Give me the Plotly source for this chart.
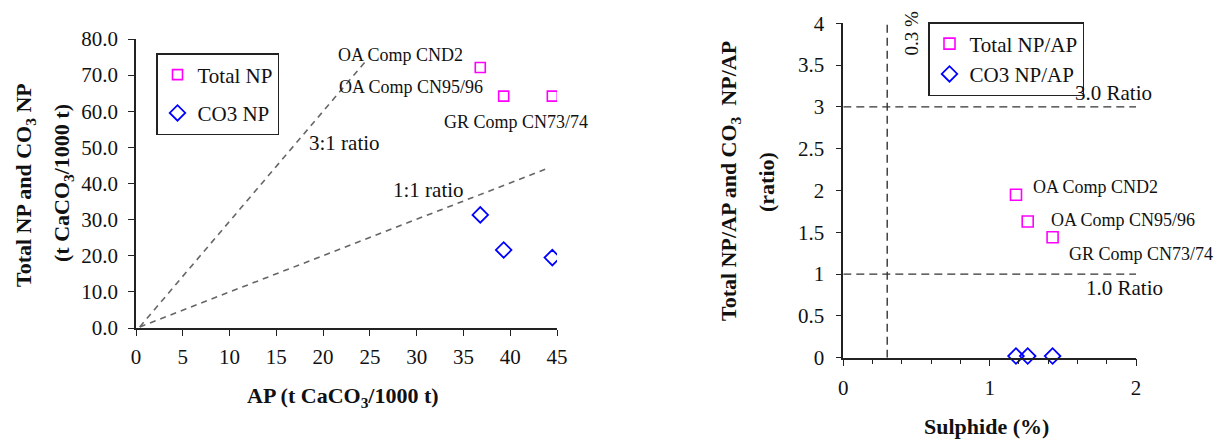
import plotly.graph_objects as go

# ---- Data (left chart) ----
ap = [36.8, 39.3, 44.5]
total_np = [72.1, 64.2, 64.2]
co3_np = [31.3, 21.6, 19.5]
sample_labels = ["OA Comp CND2", "OA Comp CN95/96", "GR Comp CN73/74"]
ratio3_x = [0.4, 24.6]
ratio3_y = [0.3, 74.0]
ratio1_x = [0.4, 43.8]
ratio1_y = [0.3, 44.0]

# ---- Data (right chart) ----
sulphide = [1.18, 1.26, 1.43]
total_np_ap = [1.95, 1.63, 1.44]
co3_np_ap = [0.02, 0.02, 0.02]
sulphide_limit = 0.3
ratio_levels = [3.0, 1.0]

FONT = "Liberation Serif"
AX = "#222222"
DASH_L = "#666666"
DASH_R = "#333333"

# page has an 8px body margin: figure is shifted by OFF px
OFF = 8
W, H = 1230 - OFF, 442 - OFF
def px(x):
    return (x - OFF) / W
def py(y):
    return 1 - (y - OFF) / H

fig = go.Figure()

# Left chart reference lines
fig.add_trace(go.Scatter(x=ratio3_x, y=ratio3_y, mode="lines", showlegend=False,
                         line=dict(color=DASH_L, width=1.6, dash="6px,5px"), xaxis="x", yaxis="y"))
fig.add_trace(go.Scatter(x=ratio1_x, y=ratio1_y, mode="lines", showlegend=False,
                         line=dict(color=DASH_L, width=1.6, dash="6px,5px"), xaxis="x", yaxis="y"))
# Left chart points
fig.add_trace(go.Scatter(x=ap, y=total_np, mode="markers", name="Total NP",
                         marker=dict(symbol="square-open", size=10, color="#FF00FF", line=dict(width=1.6)),
                         xaxis="x", yaxis="y", legend="legend", legendgroup="a"))
fig.add_trace(go.Scatter(x=ap, y=co3_np, mode="markers", name="CO3 NP",
                         marker=dict(symbol="diamond-open", size=12, color="#0000FF", line=dict(width=1.8)),
                         xaxis="x", yaxis="y", legend="legend", legendgroup="b"))

# Right chart reference lines
fig.add_trace(go.Scatter(x=[sulphide_limit, sulphide_limit], y=[0, 4], mode="lines", showlegend=False,
                         line=dict(color=DASH_R, width=1.4, dash="8px,5px"), xaxis="x2", yaxis="y2"))
for lvl in ratio_levels:
    fig.add_trace(go.Scatter(x=[0, 2], y=[lvl, lvl], mode="lines", showlegend=False,
                             line=dict(color=DASH_R, width=1.4, dash="8px,5px"), xaxis="x2", yaxis="y2"))
# Right chart points
fig.add_trace(go.Scatter(x=sulphide, y=total_np_ap, mode="markers", name="Total NP/AP",
                         marker=dict(symbol="square-open", size=11, color="#FF00FF", line=dict(width=1.6)),
                         xaxis="x2", yaxis="y2", legend="legend2", cliponaxis=False))
fig.add_trace(go.Scatter(x=sulphide, y=co3_np_ap, mode="markers", name="CO3 NP/AP",
                         marker=dict(symbol="diamond-open", size=12, color="#0000FF", line=dict(width=1.8)),
                         xaxis="x2", yaxis="y2", legend="legend2", cliponaxis=False))

tickfont = dict(family=FONT, size=21, color="#111")
common_axis = dict(showgrid=False, zeroline=False, showline=True, linecolor=AX, linewidth=1.5,
                   ticks="outside", tickcolor=AX, tickwidth=1.3, tickfont=tickfont, automargin=False)

fig.update_layout(
    width=W, height=H,
    margin=dict(l=0, r=0, t=0, b=0, autoexpand=False),
    paper_bgcolor="white", plot_bgcolor="white",
    font=dict(family=FONT, size=18, color="#111"),
    xaxis=dict(domain=[px(136), px(557)], range=[0, 45], dtick=5, ticklen=6,
               anchor="y", ticklabelstandoff=3, **common_axis),
    yaxis=dict(domain=[py(328), py(39)], range=[0, 80], dtick=10, tickformat=".1f", ticklen=6,
               anchor="x", ticklabelstandoff=6, **common_axis),
    xaxis2=dict(domain=[px(843.3), px(1136)], range=[0, 2], dtick=1, ticklen=7, anchor="y2",
                ticklabelstandoff=3,
                minor=dict(dtick=0.2, ticks="outside", ticklen=5, tickcolor=AX, tickwidth=1.2),
                **common_axis),
    yaxis2=dict(domain=[py(357.7), py(23.3)], range=[0, 4], dtick=0.5, ticklen=6, anchor="x2",
                ticklabelstandoff=7, **common_axis),
    legend=dict(x=px(156), y=py(53), xanchor="left", yanchor="top",
                bordercolor="#222", borderwidth=1.5, bgcolor="white",
                font=dict(family=FONT, size=21, color="#111"), tracegroupgap=8,
                itemwidth=30),
    legend2=dict(x=px(928), y=py(22), xanchor="left", yanchor="top",
                 bordercolor="#222", borderwidth=1.5, bgcolor="white",
                 font=dict(family=FONT, size=21, color="#111"), itemwidth=30, tracegroupgap=0),
)

ann = []
def a(text, x, y, xref, yref, size, **kw):
    ann.append(dict(text=text, x=x, y=y, xref=xref, yref=yref, showarrow=False,
                    xanchor="center", yanchor="middle",
                    font=dict(family=FONT, size=size, color="#111"), **kw))

# Left chart annotations
left_lbl_pos = [(28.3, 75.6), (29.4, 66.8), (40.65, 57.1)]
for t, (x, y) in zip(sample_labels, left_lbl_pos):
    a(t, x, y, "x", "y", 18)
a("3:1 ratio", 22.3, 51.2, "x", "y", 21)
a("1:1 ratio", 31.25, 38.2, "x", "y", 21)

# Right chart annotations (paper x for the label beyond the axis end)
right_lbl_pos = [(1.726, 2.045), (1.914, 1.647), (2.031, 1.240)]
for t, (x, y) in zip(sample_labels, right_lbl_pos):
    xp = px(843.3) + (px(1136) - px(843.3)) * x / 2
    a(t, xp, y, "paper", "y2", 18)
a("3.0 Ratio", 1.843, 3.166, "x2", "y2", 21)
a("1.0 Ratio", 1.919, 0.834, "x2", "y2", 21)
a("0.3 %", 0.466, 3.884, "x2", "y2", 19, textangle=-90)

# Axis titles
a("<b>AP (t CaCO<sub>3</sub>/1000 t)</b>", px(343), py(397), "paper", "paper", 22)
a("<b>Total NP and CO<sub>3</sub> NP</b>", px(25), py(185), "paper", "paper", 22, textangle=-90)
a("<b>(t CaCO<sub>3</sub>/1000 t)</b>", px(63), py(183), "paper", "paper", 22, textangle=-90)
a("<b>Sulphide (%)</b>", px(986), py(426), "paper", "paper", 22)
a("<b>Total NP/AP and CO<sub>3</sub>  NP/AP</b>", px(730), py(181), "paper", "paper", 22, textangle=-90)
a("<b>(ratio)</b>", px(767), py(182), "paper", "paper", 22, textangle=-90)

fig.update_layout(annotations=ann)
fig.write_html("out.html")
